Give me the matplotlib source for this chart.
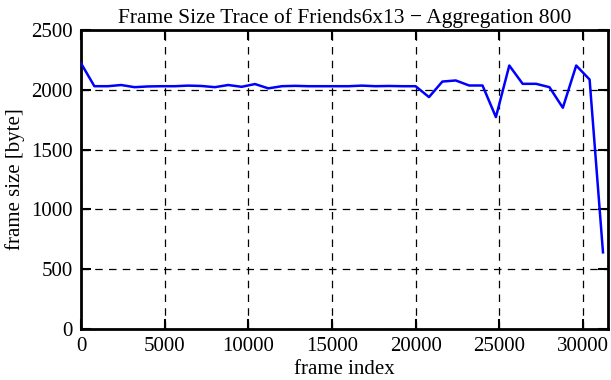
import matplotlib
matplotlib.use("Agg")
import matplotlib.pyplot as plt

frame_index = [i * 800 for i in range(40)]
frame_size = [2222, 2030, 2030, 2040, 2022, 2028, 2030, 2030, 2035, 2032,
              2022, 2040, 2025, 2048, 2012, 2030, 2033, 2030, 2030, 2030,
              2030, 2035, 2030, 2032, 2030, 2030, 1939, 2069, 2078, 2036,
              2036, 1772, 2203, 2050, 2050, 2022, 1850, 2203, 2086, 641]

xticks = [0, 5000, 10000, 15000, 20000, 25000, 30000]
yticks = [0, 500, 1000, 1500, 2000, 2500]

plt.rcParams['font.family'] = ['Liberation Serif', 'DejaVu Serif']

fig = plt.figure(figsize=(6.11, 3.80), dpi=100)
ax = fig.add_axes([81 / 611, 1 - 329 / 380, (608 - 81) / 611, (329 - 30) / 380])

ax.plot(frame_index, frame_size, color='#0000ff', linewidth=1.8, zorder=3)

ax.set_xlim(0, 31500)
ax.set_ylim(0, 2500)
ax.set_xticks(xticks)
ax.set_yticks(yticks)
ax.tick_params(direction='in', length=7, width=1.5, labelsize=15,
               top=True, right=True, pad=6, colors='black')
ax.grid(True, color='black', linestyle=(0, (6, 5)), linewidth=0.9)
for s in ax.spines.values():
    s.set_linewidth(2)

ax.set_xlabel('frame index', fontsize=15, labelpad=3)
ax.set_ylabel('frame size [byte]', fontsize=15, labelpad=4)
ax.set_title('Frame Size Trace of Friends6x13 \u2212 Aggregation 800', fontsize=15.5, pad=5)

fig.savefig('out.png', dpi=100)
